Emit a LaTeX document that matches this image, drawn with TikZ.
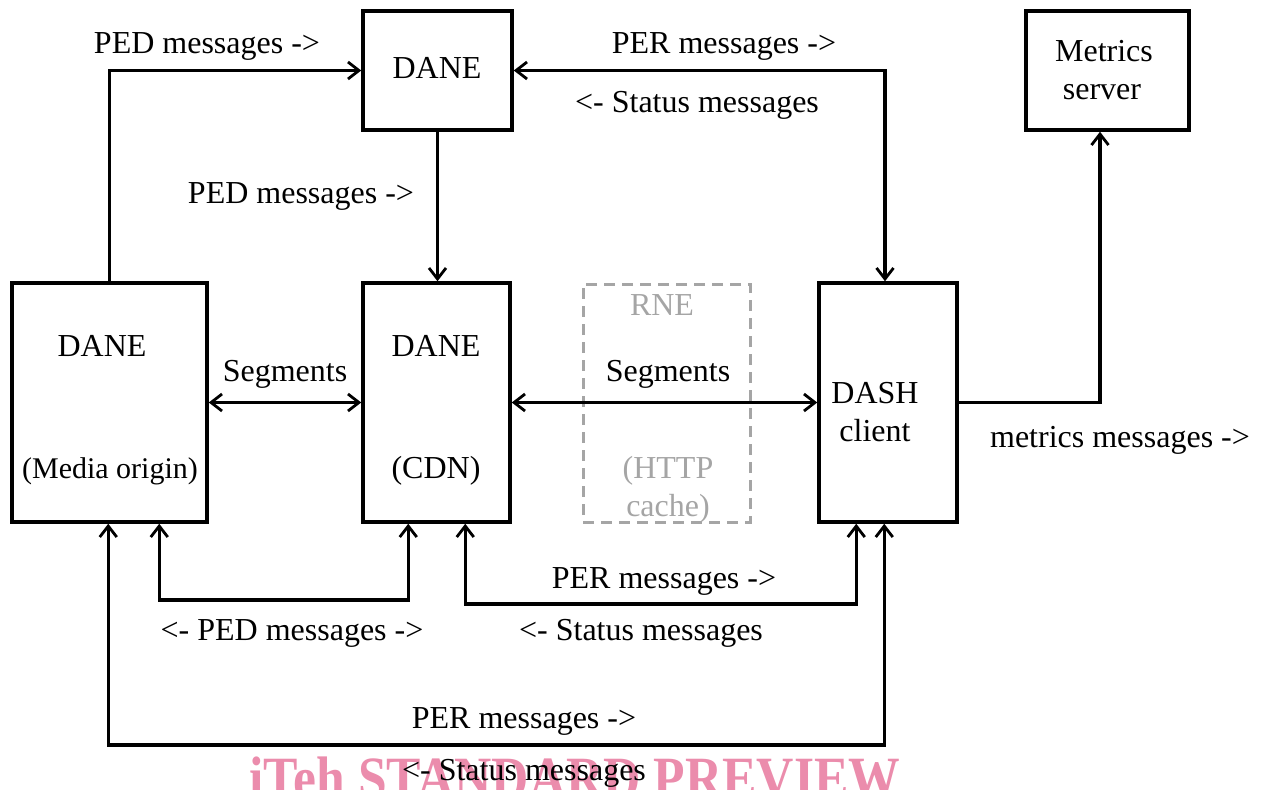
\documentclass[tikz,border=0pt]{standalone}
\usepackage{fontspec}
\setmainfont{Liberation Serif}
\usetikzlibrary{arrows.meta,calc}
\definecolor{rnegray}{RGB}{165,165,165}
\definecolor{wmpink}{RGB}{235,140,172}
\begin{document}
\begin{tikzpicture}[x=1pt,y=-1pt,
  every node/.style={font=\fontsize{32}{38}\selectfont},
  box/.style={draw,line width=3.5pt,inner sep=0pt},
  rnebox/.style={draw=rnegray,line width=3pt,dash pattern=on 11pt off 7pt,inner sep=0pt},
  conn/.style={line width=3.5pt,-{Straight Barb[length=11pt,width=17pt,line width=2.8pt]}},
  bconn/.style={line width=3.5pt,{Straight Barb[length=11pt,width=17pt,line width=2.8pt]}-{Straight Barb[length=11pt,width=17pt,line width=2.8pt]}},
  lbl/.style={inner sep=0pt,anchor=base},
  glbl/.style={lbl,text=rnegray}]
\useasboundingbox (0,0) rectangle (1273,789);
\begin{scope}
\clip (0,0) rectangle (1273,789);
\node[lbl,text=wmpink,font=\fontsize{60}{66}\selectfont\bfseries] (wm) at (575,798) {\scalebox{0.86}[1]{iTeh STANDARD PREVIEW}};
\end{scope}
% boxes
\node[box,minimum width=195pt,minimum height=239pt] (orig) at (109.5,402.5) {};
\node[box,minimum width=147pt,minimum height=239pt] (cdn) at (436.5,402.5) {};
\node[rnebox,minimum width=167pt,minimum height=238pt] (rne) at (666.5,403) {};
\node[box,minimum width=138pt,minimum height=239pt] (dash) at (888,402.5) {};
\node[box,minimum width=149pt,minimum height=119pt] (dtop) at (437.5,70.5) {};
\node[box,minimum width=163pt,minimum height=119pt] (metrics) at (1107.5,70.5) {};
% box texts
\node[lbl] (t1) at (437,79) {DANE};
\node[lbl] (t2) at (1104,62) {Metrics};
\node[lbl] (t3) at (1102,100) {server};
\node[lbl] (t4) at (102,356) {DANE};
\node[lbl,font=\fontsize{30}{36}\selectfont] (t5) at (110,478) {(Media origin)};
\node[lbl] (t6) at (436,356) {DANE};
\node[lbl] (t7) at (436,478) {(CDN)};
\node[glbl] (t8) at (662,315) {RNE};
\node[lbl] (t9) at (668,381) {Segments};
\node[glbl] (t10) at (668,478) {(HTTP};
\node[glbl] (t11) at (668,516) {cache)};
\node[lbl] (t12) at (875,403) {DASH};
\node[lbl] (t13) at (875,441) {client};
% connectors
\draw[conn] (orig.north) |- (dtop.west);
\draw[conn] (dtop.south) -- (dtop.south |- cdn.north);
\draw[bconn] (dtop.east) -| ([xshift=-3pt]dash.north);
\draw[bconn] (orig.east) -- (cdn.west);
\draw[bconn] (cdn.east) -- (dash.west);
\draw[conn] (dash.east) -| ([xshift=-7.5pt]metrics.south);
\draw[bconn] ([xshift=149pt]orig.south west) -- ++(0,76) -| ([xshift=47pt]cdn.south west);
\draw[bconn] ([xshift=104pt]cdn.south west) -- ++(0,80) -| ([xshift=39pt]dash.south west);
\draw[bconn] ([xshift=98pt]orig.south west) -- ++(0,221) -| ([xshift=67pt]dash.south west);
% connector labels
\node[lbl] (l1) at (207,54) {PED messages ->};
\node[lbl] (l2) at (301,203) {PED messages ->};
\node[lbl] (l3) at (724,54) {PER messages ->};
\node[lbl] (l4) at (697,113) {<- Status messages};
\node[lbl] (l5) at (285,381) {Segments};
\node[lbl] (l6) at (1120,447) {metrics messages ->};
\node[lbl] (l7) at (292,640) {<- PED messages ->};
\node[lbl] (l8) at (664,588) {PER messages ->};
\node[lbl] (l9) at (641,640) {<- Status messages};
\node[lbl] (l10) at (524,728) {PER messages ->};
\node[lbl] (l11) at (524,780) {<- Status messages};
\end{tikzpicture}
\end{document}
